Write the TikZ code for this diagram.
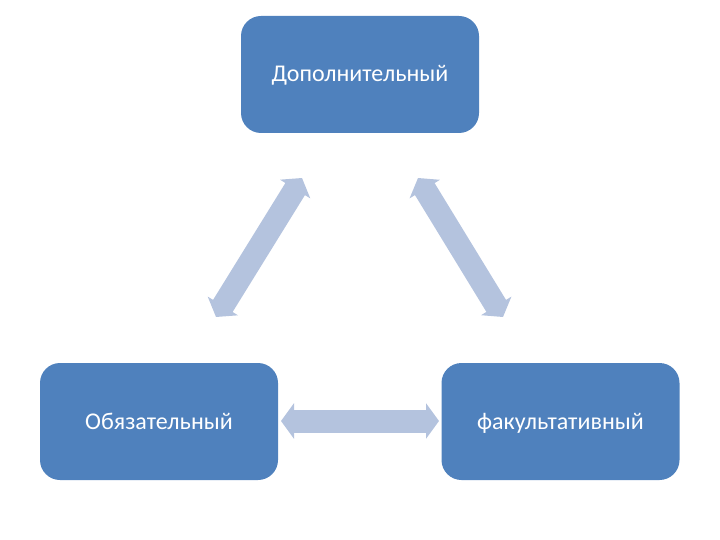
\documentclass[tikz,border=0pt]{standalone}
\usepackage{fontspec}
\setmainfont{Carlito}
\usetikzlibrary{arrows.meta}
\definecolor{boxblue}{HTML}{4F81BD}
\definecolor{arrowblue}{HTML}{B4C3DE}
\tikzset{
  box/.style={fill=boxblue, draw=none, rounded corners=20pt, minimum width=238pt, minimum height=117pt, text=white, font=\fontsize{24}{28}\selectfont, inner sep=0pt, text height=18pt, text depth=3pt},
  blockarrow/.style={draw=arrowblue, line width=23pt, {Triangle[width=35pt,length=13pt]}-{Triangle[width=35pt,length=13pt]}}
}
\begin{document}
\begin{tikzpicture}[x=1pt,y=-1pt]
\useasboundingbox (0,0) rectangle (720,540);
\node[box] (top) at (360,74.5) {Дополнительный};
\node[box] (left) at (159,421.5) {Обязательный};
\node[box] (right) at (560.5,421.5) {факультативный};
\coordinate (l1) at (302,178);
\coordinate (l2) at (216,317);
\coordinate (r1) at (418,178);
\coordinate (r2) at (503,317);
\coordinate (h1) at (281,421);
\coordinate (h2) at (439,421);
\draw[blockarrow] (l1) -- (l2);
\draw[blockarrow] (r1) -- (r2);
\draw[blockarrow] (h1) -- (h2);
\end{tikzpicture}
\end{document}
